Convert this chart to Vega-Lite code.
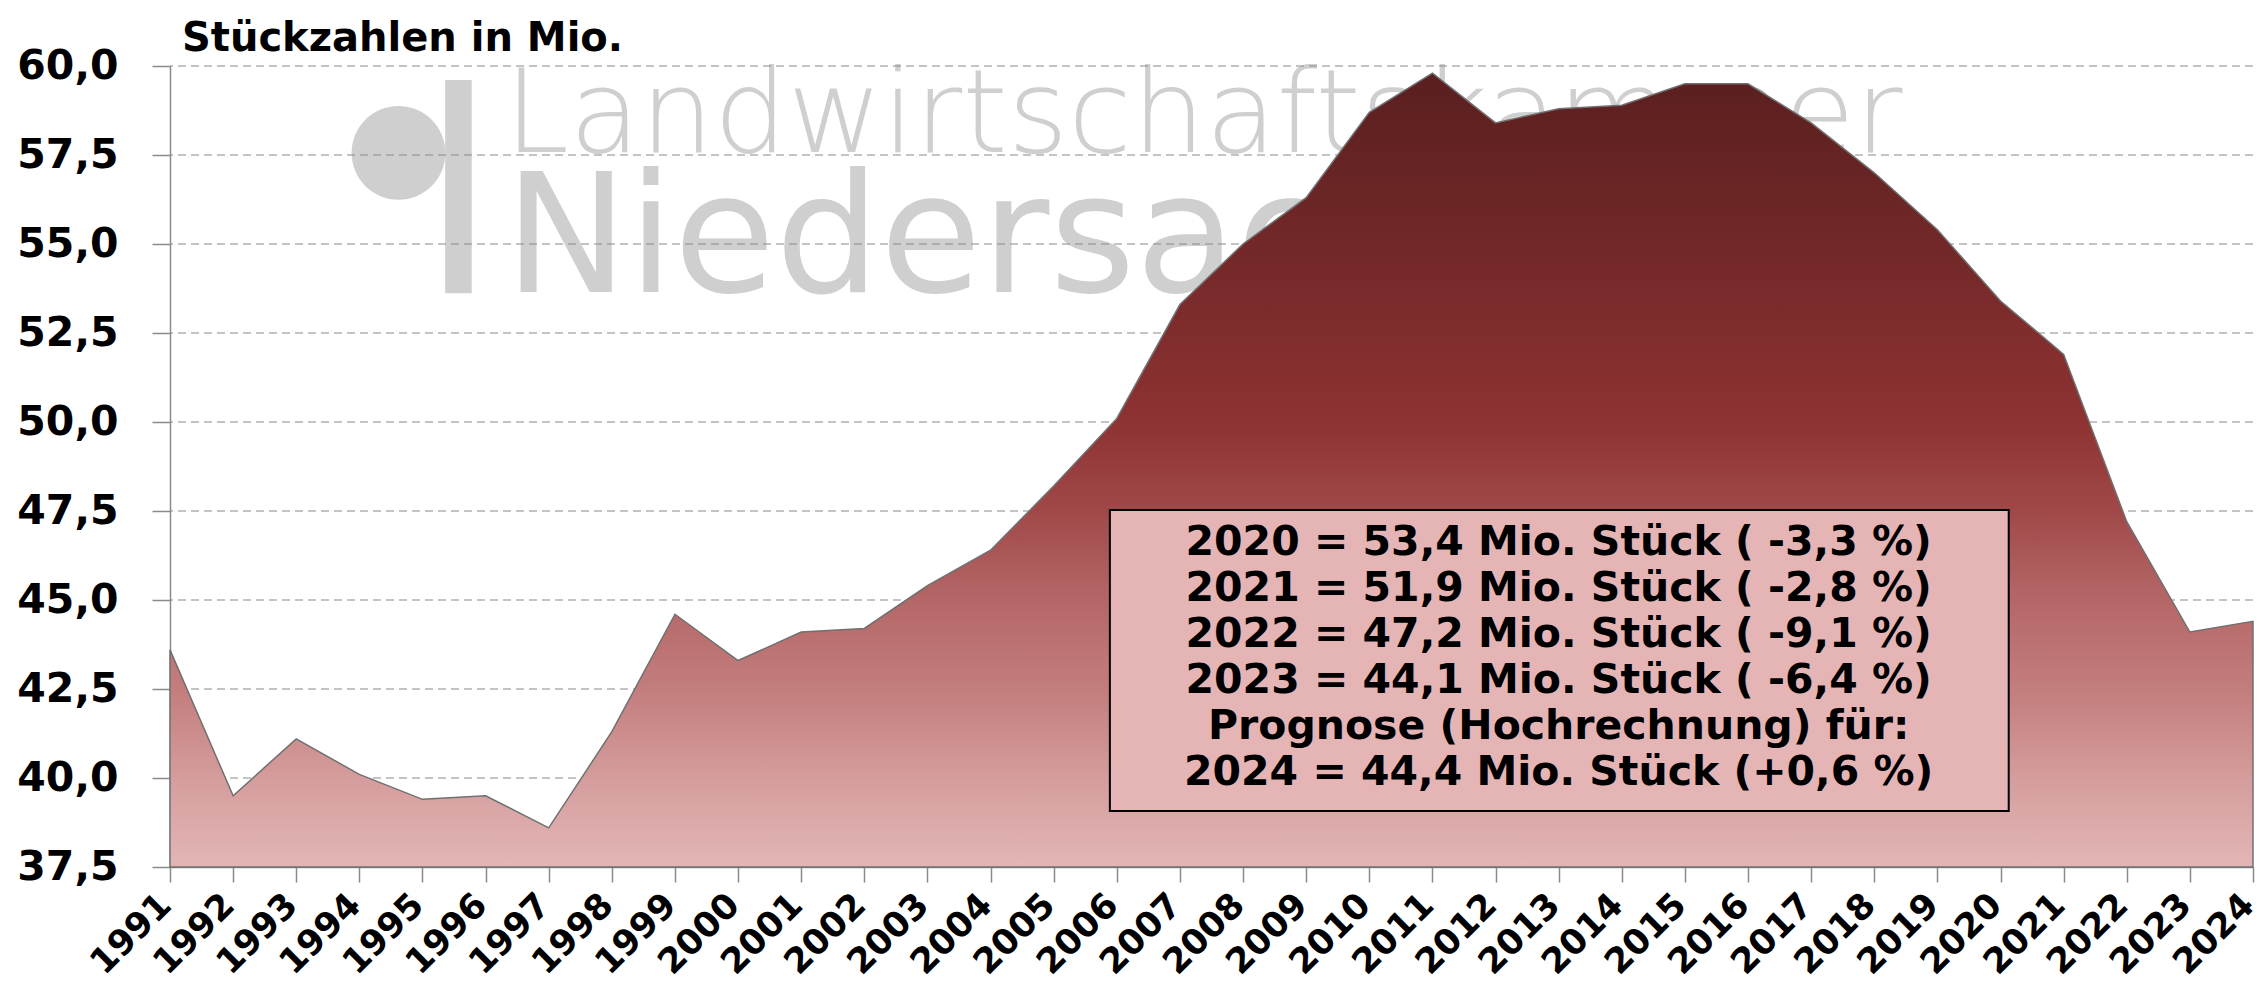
{
  "$schema": "https://vega.github.io/schema/vega-lite/v6.json",
  "width": 2083,
  "height": 801,
  "autosize": {"type": "none"},
  "padding": {"left": 170, "top": 66, "right": 14, "bottom": 120},
  "background": "white",
  "config": {"view": {"stroke": null}, "font": "DejaVu Sans"},
  "title": {
    "text": "Stückzahlen in Mio.",
    "anchor": "start",
    "frame": "group",
    "font": "DejaVu Sans",
    "fontSize": 40,
    "fontWeight": "bold",
    "color": "black",
    "offset": -14,
    "dx": 12
  },
  "datasets": {
    "pigs": [
      {"year": 1991, "value": 43.6},
      {"year": 1992, "value": 39.5},
      {"year": 1993, "value": 41.1},
      {"year": 1994, "value": 40.1},
      {"year": 1995, "value": 39.4},
      {"year": 1996, "value": 39.5},
      {"year": 1997, "value": 38.6},
      {"year": 1998, "value": 41.3},
      {"year": 1999, "value": 44.6},
      {"year": 2000, "value": 43.3},
      {"year": 2001, "value": 44.1},
      {"year": 2002, "value": 44.2},
      {"year": 2003, "value": 45.4},
      {"year": 2004, "value": 46.4},
      {"year": 2005, "value": 48.2},
      {"year": 2006, "value": 50.1},
      {"year": 2007, "value": 53.3},
      {"year": 2008, "value": 55.0},
      {"year": 2009, "value": 56.3},
      {"year": 2010, "value": 58.7},
      {"year": 2011, "value": 59.8},
      {"year": 2012, "value": 58.4},
      {"year": 2013, "value": 58.8},
      {"year": 2014, "value": 58.9},
      {"year": 2015, "value": 59.5},
      {"year": 2016, "value": 59.5},
      {"year": 2017, "value": 58.4},
      {"year": 2018, "value": 57.0},
      {"year": 2019, "value": 55.4},
      {"year": 2020, "value": 53.4},
      {"year": 2021, "value": 51.9},
      {"year": 2022, "value": 47.2},
      {"year": 2023, "value": 44.1},
      {"year": 2024, "value": 44.4}
    ],
    "grid": [
      {"v": 40}, {"v": 42.5}, {"v": 45}, {"v": 47.5}, {"v": 50},
      {"v": 52.5}, {"v": 55}, {"v": 57.5}, {"v": 60}
    ],
    "one": [{}]
  },
  "layer": [
    {
      "data": {"name": "one"},
      "mark": {"type": "rect", "fill": "#cfcfcf"},
      "encoding": {
        "x": {"datum": 1995.36, "type": "quantitative", "title": null},
        "x2": {"datum": 1995.78},
        "y": {"datum": 59.61, "type": "quantitative", "title": null},
        "y2": {"datum": 53.62}
      }
    },
    {
      "data": {"name": "one"},
      "mark": {"type": "point", "filled": true, "shape": "circle", "size": 8800, "color": "#cfcfcf", "opacity": 1},
      "encoding": {
        "x": {"datum": 1994.62, "type": "quantitative", "title": null},
        "y": {"datum": 57.56, "type": "quantitative", "title": null}
      }
    },
    {
      "data": {"name": "one"},
      "mark": {"type": "text", "text": "Landwirtschaftskammer", "font": "DejaVu Sans", "fontWeight": 200, "fontSize": 116, "color": "#cfcfcf", "align": "left", "baseline": "alphabetic"},
      "encoding": {
        "x": {"datum": 1996.3, "type": "quantitative", "title": null},
        "y": {"datum": 57.58, "type": "quantitative", "title": null}
      }
    },
    {
      "data": {"name": "one"},
      "mark": {"type": "text", "text": "Niedersachsen", "font": "DejaVu Sans", "fontSize": 165, "color": "#cfcfcf", "align": "left", "baseline": "alphabetic"},
      "encoding": {
        "x": {"datum": 1996.3, "type": "quantitative", "title": null},
        "y": {"datum": 53.65, "type": "quantitative", "title": null}
      }
    },
    {
      "data": {"name": "grid"},
      "mark": {"type": "rule", "stroke": "#8a8a8a", "strokeWidth": 1.2, "strokeDash": [8, 5]},
      "encoding": {
        "y": {"field": "v", "type": "quantitative", "title": null}
      }
    },
    {
      "data": {"name": "pigs"},
      "mark": {
        "type": "area",
        "fill": {
          "gradient": "linear",
          "x1": 0, "y1": 0, "x2": 0, "y2": 1,
          "stops": [
            {"offset": 0, "color": "#5a1f1f"},
            {"offset": 0.2, "color": "#702727"},
            {"offset": 0.44, "color": "#8e3232"},
            {"offset": 0.55, "color": "#a04848"},
            {"offset": 0.66, "color": "#b46666"},
            {"offset": 0.78, "color": "#c47e7e"},
            {"offset": 0.89, "color": "#d59d9d"},
            {"offset": 1, "color": "#e3b6b6"}
          ]
        },
        "stroke": "#707070",
        "strokeWidth": 1.5
      },
      "encoding": {
        "x": {
          "field": "year",
          "type": "quantitative",
          "title": null,
          "scale": {"domain": [1991, 2024], "nice": false, "zero": false},
          "axis": {
            "values": [1991, 1992, 1993, 1994, 1995, 1996, 1997, 1998, 1999, 2000, 2001, 2002, 2003, 2004, 2005, 2006, 2007, 2008, 2009, 2010, 2011, 2012, 2013, 2014, 2015, 2016, 2017, 2018, 2019, 2020, 2021, 2022, 2023, 2024],
            "format": "d",
            "labelAngle": -45,
            "labelFont": "DejaVu Sans",
            "labelFontSize": 35,
            "labelFontWeight": "bold",
            "labelColor": "black",
            "labelOverlap": false,
            "labelBound": false,
            "labelFlush": false,
            "labelPadding": 5,
            "labelOffset": -17,
            "tickSize": 15,
            "tickColor": "#8a8a8a",
            "tickWidth": 1.5,
            "domainColor": "#8a8a8a",
            "domainWidth": 1.5,
            "grid": false,
            "title": null
          }
        },
        "y": {
          "field": "value",
          "type": "quantitative",
          "title": null,
          "scale": {"domain": [37.5, 60], "nice": false, "zero": false},
          "axis": {
            "values": [37.5, 40, 42.5, 45, 47.5, 50, 52.5, 55, 57.5, 60],
            "labelExpr": "replace(format(datum.value, '.1f'), '.', ',')",
            "labelFont": "DejaVu Sans",
            "labelFontSize": 41,
            "labelFontWeight": "bold",
            "labelColor": "black",
            "labelPadding": 34,
            "tickSize": 18,
            "tickColor": "#8a8a8a",
            "tickWidth": 1.5,
            "domainColor": "#8a8a8a",
            "domainWidth": 1.5,
            "grid": false,
            "title": null
          }
        },
        "y2": {"datum": 37.5}
      }
    },
    {
      "data": {"name": "one"},
      "mark": {"type": "rect", "fill": "#e5b5b5", "stroke": "black", "strokeWidth": 2},
      "encoding": {
        "x": {"datum": 2005.89, "type": "quantitative", "title": null},
        "x2": {"datum": 2020.13},
        "y": {"datum": 47.53, "type": "quantitative", "title": null},
        "y2": {"datum": 39.07}
      }
    },
    {
      "data": {"name": "one"},
      "mark": {
        "type": "text",
        "text": [
          "2020 = 53,4 Mio. Stück ( -3,3 %)",
          "2021 = 51,9 Mio. Stück ( -2,8 %)",
          "2022 = 47,2 Mio. Stück ( -9,1 %)",
          "2023 = 44,1 Mio. Stück ( -6,4 %)",
          "Prognose (Hochrechnung) für:",
          "2024 = 44,4 Mio. Stück (+0,6 %)"
        ],
        "font": "DejaVu Sans",
        "fontWeight": "bold",
        "fontSize": 41,
        "lineHeight": 46,
        "color": "black",
        "align": "center",
        "baseline": "middle"
      },
      "encoding": {
        "x": {"datum": 2013.0, "type": "quantitative", "title": null},
        "y": {"datum": 46.6, "type": "quantitative", "title": null}
      }
    }
  ]
}
